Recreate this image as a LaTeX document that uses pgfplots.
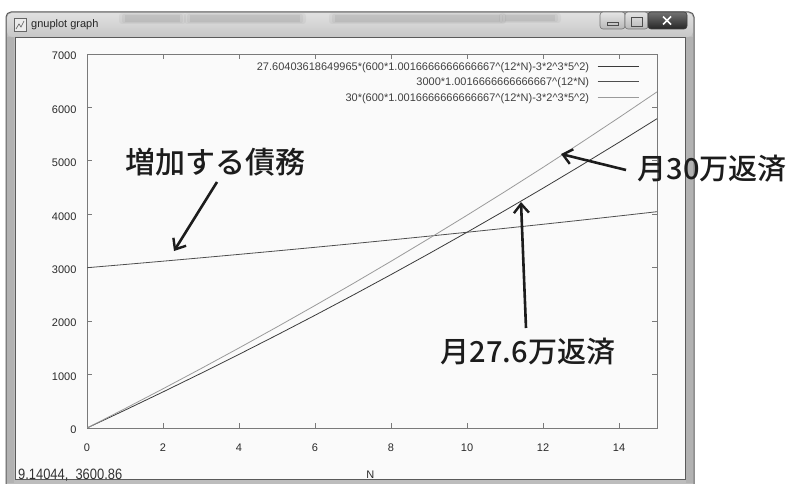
\documentclass[border=0pt]{standalone}
\usepackage{pgfplots}
\pgfplotsset{compat=1.18}
\usepackage{graphicx}
\usepackage{fontspec}
\setmainfont{Liberation Sans}
\newfontfamily\cjk{Noto Sans CJK JP}[UprightFont={* Medium}]
\usetikzlibrary{arrows.meta}

\definecolor{pagebg}{HTML}{FFFFFF}
\definecolor{framegrey}{HTML}{BDBDBD}
\definecolor{frameedge}{HTML}{5A5A5A}
\definecolor{clientbg}{HTML}{FAFAFA}
\definecolor{axisgrey}{HTML}{7A7A7A}
\definecolor{labelgrey}{HTML}{2A2A2A}
\definecolor{repayA}{HTML}{3A3A3A}
\definecolor{debtcol}{HTML}{4E4E4E}
\definecolor{repayB}{HTML}{9A9A9A}
\definecolor{inkdark}{HTML}{1C1C1C}

% soft smudge on the title bar glass
\newcommand\smudge[4]{%
  \fill[black, opacity=0.04, rounded corners=3pt] (#1-6,#2-2) rectangle (#3+6,#4+2);
  \fill[black, opacity=0.04, rounded corners=2pt] (#1-3,#2-1) rectangle (#3+3,#4+1);
  \fill[black, opacity=0.05] (#1,#2) rectangle (#3,#4);}

\begin{document}
\begin{tikzpicture}[x=1pt,y=1pt]
\useasboundingbox (0,0) rectangle (787,483);
\fill[pagebg] (0,0) rectangle (787,483);

% --- window frame and title bar ---
\fill[framegrey, rounded corners=5pt] (6,-6) rectangle (694,471);
\shade[top color=white!88!black, bottom color=white!78!black, rounded corners=5pt]
  (7,446) rectangle (693,470);
\smudge{125}{461}{180}{468}
\smudge{190}{461}{300}{468}
\smudge{335}{461}{500}{468}
\smudge{505}{462}{555}{468}
\draw[frameedge, line width=1pt, rounded corners=5pt] (6,-6) -- (6,471) -- (694,471) -- (694,-6);
\fill[white!70!black] (7,0) rectangle (14,446);
\fill[white!70!black] (686,0) rectangle (693,446);
\fill[clientbg] (15,4) rectangle (685,446);
\draw[frameedge, line width=0.9pt] (15,4) rectangle (685,446);

% title bar icon and caption
\fill[white!92!black] (14,452) rectangle (26,465);
\draw[white!40!black, line width=0.6pt] (14,452) rectangle (26,465);
\draw[white!35!black, line width=0.6pt] (16,454) -- (19,459) -- (21,456) -- (24,462);
\node[anchor=west, inner sep=0pt, font=\fontsize{11}{13}\selectfont, text=black!85]
  at (31,458) {gnuplot graph};

% caption buttons
\shade[top color=white!90!black, bottom color=white!72!black, rounded corners=3pt]
  (600,454) rectangle (625,471);
\draw[white!45!black, line width=0.6pt, rounded corners=3pt] (600,454) rectangle (625,471);
\shade[top color=white!90!black, bottom color=white!72!black, rounded corners=3pt]
  (625,454) rectangle (648,471);
\draw[white!45!black, line width=0.6pt, rounded corners=3pt] (625,454) rectangle (648,471);
\shade[top color=white!45!black, bottom color=white!15!black, rounded corners=3pt]
  (648,454) rectangle (687,471);
\draw[white!25!black, line width=0.6pt, rounded corners=3pt] (648,454) rectangle (687,471);
\draw[white!30!black, line width=0.8pt] (607,458) rectangle (618,461);
\draw[white!30!black, line width=0.8pt] (631,457) rectangle (642,466);
\draw[white, line width=1.6pt] (663,458.5) -- (671,466.5) (663,466.5) -- (671,458.5);

% status line
\node[anchor=west, inner sep=0pt, text=black!80] at (18,8)
  {\scalebox{0.86}[1]{\fontsize{15}{15}\selectfont 9.14044,\ \ 3600.86}};

% --- the plot ---
\begin{axis}[
  at={(87pt,55pt)}, anchor=south west,
  scale only axis, width=570pt, height=374pt,
  xmin=0, xmax=15, ymin=0, ymax=7000,
  xtick={0,2,...,14}, ytick={0,1000,...,7000},
  tick align=inside, major tick length=5pt,
  axis line style={draw=axisgrey, line width=0.9pt},
  every tick/.style={draw=axisgrey, line width=0.8pt},
  tick label style={font=\fontsize{11}{13}\selectfont, text=labelgrey},
  xticklabel style={anchor=center, yshift=-19.5pt},
  yticklabel style={anchor=east, xshift=-7pt, yshift=-2pt},
  /pgf/number format/assume math mode=true,
  /pgf/number format/set thousands separator={},
  xlabel={N},
  xlabel style={at={(axis description cs:0.497,0)}, anchor=center, yshift=-47pt,
    font=\fontsize{11}{13}\selectfont, text=labelgrey},
  legend plot pos=right,
  legend cell align=right,
  legend style={draw=none, fill=none, inner sep=0pt, outer sep=0pt,
    at={(rel axis cs:0.9684,0.9786)}, anchor=north east,
    font=\fontsize{11}{13}\selectfont, text=black!75,
    column sep=8pt, row sep=7.5pt,
    nodes={inner sep=0pt, text height=8pt, text depth=0pt}},
  legend image code/.code={\draw[#1] (0pt,0pt) -- (41pt,0pt);},
]
% 27.60403618649965*(600*r^(12N)-600), r = 1+1/600
\addplot[repayA, line width=0.8pt] coordinates {
  (0,0) (1,334.30) (2,675.35) (3,1023.28) (4,1378.24) (5,1740.36)
  (6,2109.79) (7,2486.68) (8,2871.17) (9,3263.43) (10,3663.59)
  (11,4071.85) (12,4488.33) (13,4913.23) (14,5346.70) (15,5788.92)};
\addlegendentry{27.60403618649965*(600*1.0016666666666667\textasciicircum(12*N)-3*2\textasciicircum3*5\textasciicircum2)}
% 3000*r^(12N): the growing debt
\addplot[debtcol, line width=0.8pt] coordinates {
  (0,3000) (1,3060.55) (2,3122.33) (3,3185.35) (4,3249.64) (5,3315.24)
  (6,3382.15) (7,3450.42) (8,3520.06) (9,3591.11) (10,3663.60)
  (11,3737.55) (12,3812.99) (13,3889.95) (14,3968.46) (15,4048.56)};
\addlegendentry{3000*1.0016666666666667\textasciicircum(12*N)}
% 30*(600*r^(12N)-600)
\addplot[repayB, line width=0.8pt] coordinates {
  (0,0) (1,363.32) (2,733.97) (3,1112.10) (4,1497.87) (5,1891.42)
  (6,2292.92) (7,2702.52) (8,3120.38) (9,3546.68) (10,3981.59)
  (11,4425.27) (12,4877.91) (13,5339.69) (14,5810.78) (15,6291.39)};
\addlegendentry{30*(600*1.0016666666666667\textasciicircum(12*N)-3*2\textasciicircum3*5\textasciicircum2)}
\end{axis}

% --- callouts ---
\tikzset{callout/.style={draw=inkdark, line width=2.6pt,
  -{Straight Barb[length=9pt, width=15pt, line width=2.4pt]}}}
\node[font=\cjk\fontsize{30}{32}\selectfont, text=inkdark, inner sep=0pt]
  at (215,321) {増加する債務};
\draw[callout] (217,301) -- (174,232);

\node[font=\cjk\fontsize{29}{31}\selectfont, text=inkdark, inner sep=0pt]
  at (712,314) {月30万返済};
\draw[callout] (626,313) -- (561,329);

\node[font=\cjk\fontsize{29}{31}\selectfont, text=inkdark, inner sep=0pt]
  at (528,131) {月27.6万返済};
\draw[callout] (526,155) -- (521,281);
\end{tikzpicture}
\end{document}
